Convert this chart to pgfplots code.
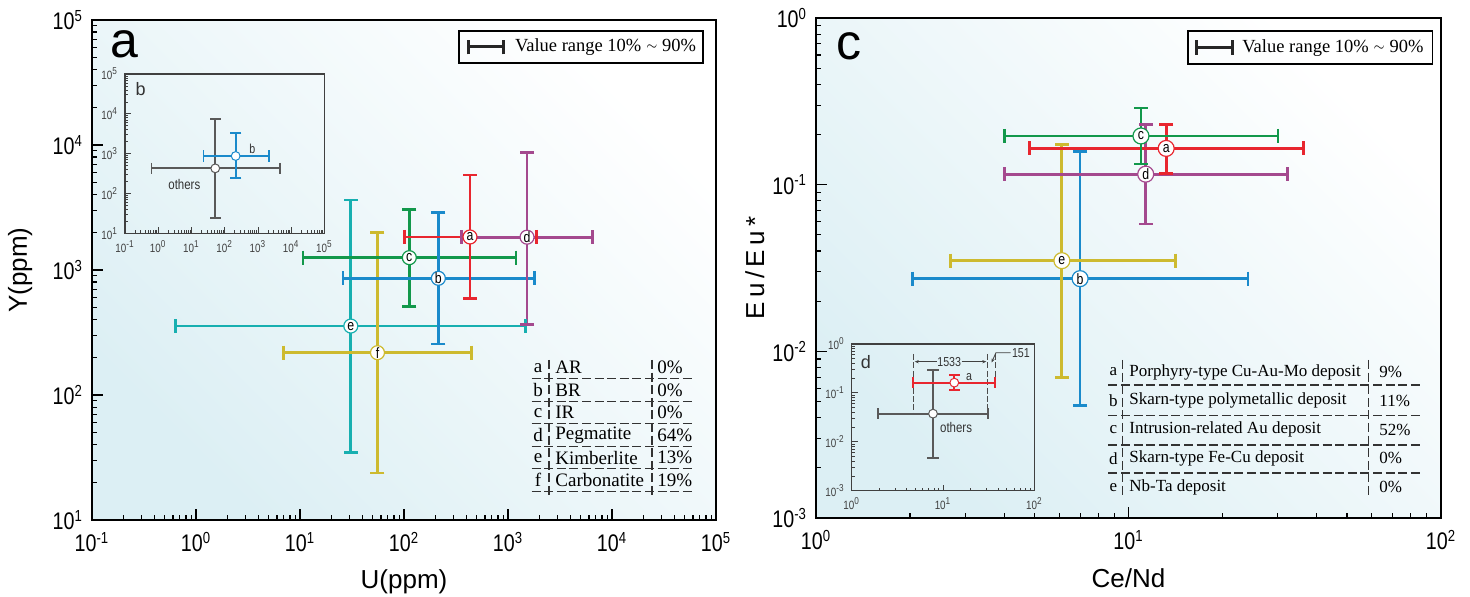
\documentclass[border=0pt]{standalone}
\usepackage{pgfplots}
\pgfplotsset{compat=1.18}
\usepackage{fontspec}
\setmainfont{Liberation Sans}
\newfontfamily\serif{Liberation Serif}
\newfontfamily\narrow{Liberation Sans}[FakeStretch=0.82]
\usetikzlibrary{arrows.meta}

\definecolor{bgc}{RGB}{220,239,244}
\definecolor{cA}{RGB}{232,38,47}
\definecolor{cB}{RGB}{26,138,203}
\definecolor{cC}{RGB}{18,152,75}
\definecolor{cD}{RGB}{164,73,142}
\definecolor{cE}{RGB}{23,175,176}
\definecolor{cF}{RGB}{205,186,47}
\definecolor{cG}{RGB}{89,89,89}
\definecolor{tbl}{RGB}{51,51,51}

\tikzset{
  hr/.style={draw=#1, line width=1.4pt, mark=|, mark size=3.5pt},
  vr/.style={draw=#1, line width=1.4pt, mark=-, mark size=3.5pt},
  ihr/.style={draw=#1, line width=0.9pt, mark=|, mark size=2.8pt},
  ivr/.style={draw=#1, line width=0.9pt, mark=-, mark size=2.8pt},
  dot/.style={mark=*, mark size=2.2pt, mark options={fill=white, draw=#1, line width=0.5pt}},
  ltr/.style={font=\narrow\fontsize{7.5}{8}\selectfont, inner sep=0pt, text=black, anchor=center},
}

\begin{document}
\begin{tikzpicture}
\useasboundingbox (0,0) rectangle (735pt,298.5pt);

% ================= Panel a =================
\begin{axis}[at={(46pt,38.5pt)}, anchor=south west,
  xmode=log, ymode=log, scale only axis,
  width=312pt, height=250pt,
  axis line style={line width=0.8pt},
  tick align=inside, xtick pos=bottom, ytick pos=left,
  major tick length=5.5pt, minor tick length=2.5pt,
  every tick/.style={black, line width=0.6pt},
  tick label style={font=\narrow\fontsize{12}{14}\selectfont},
  xticklabel style={yshift=-2.5pt},
  yticklabel style={xshift=-1pt},
  every axis label/.append style={font=\fontsize{13}{15}\selectfont},
  axis background/.style={top color=white, bottom color=bgc, shading angle=-45},
  clip=false,
  xmin=0.1, xmax=1e5, ymin=10, ymax=1e5,
  xtick={0.1,1,10,100,1000,10000,100000},
  xticklabels={10\textsuperscript{-1},10\textsuperscript{0},10\textsuperscript{1},10\textsuperscript{2},10\textsuperscript{3},10\textsuperscript{4},10\textsuperscript{5}},
  ytick={10,100,1000,10000,100000},
  yticklabels={10\textsuperscript{1},10\textsuperscript{2},10\textsuperscript{3},10\textsuperscript{4},10\textsuperscript{5}},
  xlabel={U(ppm)}, ylabel={Y(ppm)},
  x label style={at={(axis description cs:0.5,-0.124)}, anchor=center},
  y label style={at={(axis description cs:-0.115,0.5)}, anchor=center},
]
% e
\addplot[hr=cE] coordinates {(0.64,356) (1462,356)};
\addplot[vr=cE] coordinates {(30.8,34.8) (30.8,3631)};
% f
\addplot[hr=cF] coordinates {(7.0,218) (448,218)};
\addplot[vr=cF] coordinates {(55.6,23.8) (55.6,2002)};
% c
\addplot[hr=cC] coordinates {(10.7,1255) (1194,1255)};
\addplot[vr=cC] coordinates {(112.5,509) (112.5,3058)};
% b
\addplot[hr=cB] coordinates {(25.9,858) (1795,858)};
\addplot[vr=cB] coordinates {(214,256) (214,2895)};
% a
\addplot[hr=cA] coordinates {(100.7,1837) (1871,1837)};
\addplot[vr=cA] coordinates {(431,594) (431,5754)};
% d
\addplot[hr=cD] coordinates {(357,1830) (6500,1830)};
\addplot[vr=cD] coordinates {(1524,368) (1524,8735)};
% markers
\addplot[only marks, mark=*, mark size=3.5pt, mark options={fill=white, draw=cE, line width=0.6pt}, nodes near coords={e}, every node near coord/.style={ltr}] coordinates {(30.8,356)};
\addplot[only marks, mark=*, mark size=3.5pt, mark options={fill=white, draw=cF, line width=0.6pt}, nodes near coords={f}, every node near coord/.style={ltr}] coordinates {(55.6,218)};
\addplot[only marks, mark=*, mark size=3.5pt, mark options={fill=white, draw=cC, line width=0.6pt}, nodes near coords={c}, every node near coord/.style={ltr}] coordinates {(112.5,1255)};
\addplot[only marks, mark=*, mark size=3.5pt, mark options={fill=white, draw=cB, line width=0.6pt}, nodes near coords={b}, every node near coord/.style={ltr}] coordinates {(214,858)};
\addplot[only marks, mark=*, mark size=3.5pt, mark options={fill=white, draw=cA, line width=0.6pt}, nodes near coords={a}, every node near coord/.style={ltr}] coordinates {(431,1837)};
\addplot[only marks, mark=*, mark size=3.5pt, mark options={fill=white, draw=cD, line width=0.6pt}, nodes near coords={d}, every node near coord/.style={ltr}] coordinates {(1524,1830)};
\node[font=\fontsize{25}{25}\selectfont] at (axis description cs:0.052,0.951) {a};
\end{axis}

% legend box a
\draw[line width=0.8pt] (229.5pt,283pt) rectangle (351.5pt,267pt);
\draw[line width=1.5pt, black!85] (234pt,275pt) -- (251.5pt,275pt);
\draw[line width=1.5pt, black!85] (234pt,271.3pt) -- (234pt,278.7pt);
\draw[line width=1.5pt, black!85] (251.5pt,271.3pt) -- (251.5pt,278.7pt);
\node[anchor=west, inner sep=0pt, font=\serif\fontsize{9.25}{10}\selectfont] at (257.3pt,275pt) {Value range 10\% {\fontsize{6}{6}\selectfont\raisebox{0.3ex}{$\sim$}} 90\%};

% table a
\begin{scope}[tbl, line width=0.55pt, dash pattern=on 4.5pt off 1.8pt]
\foreach \yy in {378.7,401.2,423.7,446.2,468.7,491.2} {
  \draw (265.8pt,{(597-\yy)/2*1pt}) -- (347.3pt,{(597-\yy)/2*1pt});
}
\draw (274.5pt,{(597-360)/2*1pt}) -- (274.5pt,{(597-498)/2*1pt});
\draw (326pt,{(597-360)/2*1pt}) -- (326pt,{(597-498)/2*1pt});
\end{scope}
\begin{scope}[font=\serif\fontsize{9.5}{10}\selectfont, inner sep=0pt]
\foreach \l/\n/\p [count=\i from 0] in {a/AR/0\%,b/BR/0\%,c/IR/0\%,d/Pegmatite/64\%,e/Kimberlite/13\%,f/Carbonatite/19\%} {
  \pgfmathsetmacro{\yc}{(597-(367.7+22.5*\i))/2}
  \node[anchor=center] at (269pt,\yc pt) {\l};
  \node[anchor=west] at (277.5pt,\yc pt) {\n};
  \node[anchor=west] at (328.5pt,\yc pt) {\p};
}
\end{scope}

% ================= Inset b =================
\begin{axis}[at={(62.5pt,181.85pt)}, anchor=south west,
  xmode=log, ymode=log, scale only axis,
  width=99.7pt, height=79.6pt,
  axis line style={line width=0.6pt, draw=black!75},
  tick align=inside, xtick pos=bottom, ytick pos=left,
  major tick length=3pt, minor tick length=1.5pt,
  every tick/.style={black!75, line width=0.4pt},
  tick label style={font=\narrow\fontsize{6}{7}\selectfont, text=black!75},
  clip=false,
  xmin=0.1, xmax=1e5, ymin=10, ymax=1e5,
  xtick={0.1,1,10,100,1000,10000,100000},
  xticklabels={10\textsuperscript{-1},10\textsuperscript{0},10\textsuperscript{1},10\textsuperscript{2},10\textsuperscript{3},10\textsuperscript{4},10\textsuperscript{5}},
  ytick={10,100,1000,10000,100000},
  yticklabels={10\textsuperscript{1},10\textsuperscript{2},10\textsuperscript{3},10\textsuperscript{4},10\textsuperscript{5}},
]
\addplot[ihr=cG] coordinates {(0.63,428) (4510,428)};
\addplot[ivr=cG] coordinates {(52,23.8) (52,7280)};
\addplot[ihr=cB] coordinates {(23,874) (2100,874)};
\addplot[ivr=cB] coordinates {(214,250) (214,3240)};
\addplot[only marks, dot=cG] coordinates {(52,428)};
\addplot[only marks, dot=cB] coordinates {(214,874)};
\node[font=\fontsize{9}{9}\selectfont, text=black!80] at (axis description cs:0.079,0.904) {b};
\node[font=\narrow\fontsize{6.5}{7}\selectfont, text=black!80] at (axis cs:676,1285) {b};
\node[font=\narrow\fontsize{7}{7}\selectfont, text=black!80] at (axis cs:6.1,170) {others};
\end{axis}

% ================= Panel c =================
\begin{axis}[at={(408pt,39.5pt)}, anchor=south west,
  xmode=log, ymode=log, scale only axis,
  width=312.5pt, height=250pt,
  axis line style={line width=0.8pt},
  tick align=inside, xtick pos=bottom, ytick pos=left,
  major tick length=5.5pt, minor tick length=2.5pt,
  every tick/.style={black, line width=0.6pt},
  tick label style={font=\narrow\fontsize{12}{14}\selectfont},
  xticklabel style={yshift=-2.5pt},
  yticklabel style={xshift=-1pt},
  every axis label/.append style={font=\fontsize{13}{15}\selectfont},
  axis background/.style={top color=white, bottom color=bgc, shading angle=-45},
  clip=false,
  xmin=1, xmax=100, ymin=0.001, ymax=1,
  xtick={1,10,100},
  xticklabels={10\textsuperscript{0},10\textsuperscript{1},10\textsuperscript{2}},
  ytick={0.001,0.01,0.1,1},
  yticklabels={10\textsuperscript{-3},10\textsuperscript{-2},10\textsuperscript{-1},10\textsuperscript{0}},
  xlabel={Ce/Nd}, ylabel={E\,u\,/\,E\,u\,*},
  x label style={at={(axis description cs:0.5,-0.12)}, anchor=center},
  y label style={at={(axis description cs:-0.098,0.5)}, anchor=center},
]
% b
\addplot[hr=cB] coordinates {(2.04,0.0273) (24.1,0.0273)};
\addplot[vr=cB] coordinates {(7.0,0.00474) (7.0,0.158)};
% e
\addplot[hr=cF] coordinates {(2.70,0.035) (14.1,0.035)};
\addplot[vr=cF] coordinates {(6.12,0.00694) (6.12,0.175)};
% d
\addplot[hr=cD] coordinates {(4.01,0.1156) (32.3,0.1156)};
\addplot[vr=cD] coordinates {(11.35,0.0581) (11.35,0.2286)};
% a
\addplot[hr=cA] coordinates {(4.81,0.165) (36.3,0.165)};
\addplot[vr=cA] coordinates {(13.2,0.117) (13.2,0.2297)};
% c
\addplot[hr=cC] coordinates {(4.02,0.196) (30.1,0.196)};
\addplot[vr=cC] coordinates {(10.96,0.133) (10.96,0.288)};
% markers
\addplot[only marks, mark=*, mark size=4pt, mark options={fill=white, draw=cF, line width=0.6pt}, nodes near coords={e}, every node near coord/.style={ltr}] coordinates {(6.12,0.035)};
\addplot[only marks, mark=*, mark size=4pt, mark options={fill=white, draw=cB, line width=0.6pt}, nodes near coords={b}, every node near coord/.style={ltr}] coordinates {(7.0,0.0273)};
\addplot[only marks, mark=*, mark size=4pt, mark options={fill=white, draw=cD, line width=0.6pt}, nodes near coords={d}, every node near coord/.style={ltr}] coordinates {(11.35,0.1156)};
\addplot[only marks, mark=*, mark size=4pt, mark options={fill=white, draw=cA, line width=0.6pt}, nodes near coords={a}, every node near coord/.style={ltr}] coordinates {(13.2,0.165)};
\addplot[only marks, mark=*, mark size=4pt, mark options={fill=white, draw=cC, line width=0.6pt}, nodes near coords={c}, every node near coord/.style={ltr}] coordinates {(10.96,0.196)};
\node[font=\fontsize{25}{25}\selectfont] at (axis description cs:0.052,0.944) {c};
\end{axis}

% legend box c
\draw[line width=0.8pt] (593.9pt,283pt) rectangle (716.3pt,266.5pt);
\draw[line width=1.5pt, black!85] (598pt,274.7pt) -- (616pt,274.7pt);
\draw[line width=1.5pt, black!85] (598pt,271pt) -- (598pt,278.4pt);
\draw[line width=1.5pt, black!85] (616pt,271pt) -- (616pt,278.4pt);
\node[anchor=west, inner sep=0pt, font=\serif\fontsize{9.25}{10}\selectfont] at (621pt,274.7pt) {Value range 10\% {\fontsize{6}{6}\selectfont\raisebox{0.3ex}{$\sim$}} 90\%};

% table c
\begin{scope}[tbl, line width=0.55pt, dash pattern=on 4.5pt off 1.8pt]
\foreach \yy in {385,415.5,445,473} {
  \draw (554.2pt,{(597-\yy)/2*1pt}) -- (709.8pt,{(597-\yy)/2*1pt});
}
\draw (561.4pt,{(597-360)/2*1pt}) -- (561.4pt,{(597-495)/2*1pt});
\draw (684.3pt,{(597-360)/2*1pt}) -- (684.3pt,{(597-495)/2*1pt});
\end{scope}
\begin{scope}[font=\serif\fontsize{8.5}{9}\selectfont, inner sep=0pt]
\foreach \l/\n/\p [count=\i from 0] in {a/Porphyry-type Cu-Au-Mo deposit/9\%,b/Skarn-type polymetallic deposit/11\%,c/Intrusion-related Au deposit/52\%,d/Skarn-type Fe-Cu deposit/0\%,e/Nb-Ta deposit/0\%} {
  \pgfmathsetmacro{\yc}{(597-(372+28.8*\i))/2}
  \node[anchor=center] at (556.7pt,\yc pt) {\l};
  \node[anchor=west] at (564.5pt,\yc pt) {\n};
  \node[anchor=west] at (689.5pt,\yc pt) {\p};
}
\end{scope}

% ================= Inset d =================
\begin{axis}[at={(425.85pt,53.15pt)}, anchor=south west,
  xmode=log, ymode=log, scale only axis,
  width=91.3pt, height=73.35pt,
  axis line style={line width=0.6pt, draw=black!75},
  tick align=inside, xtick pos=bottom, ytick pos=left,
  major tick length=3pt, minor tick length=1.5pt,
  every tick/.style={black!75, line width=0.4pt},
  tick label style={font=\narrow\fontsize{6}{7}\selectfont, text=black!75},
  clip=false,
  xmin=1, xmax=100, ymin=0.001, ymax=1,
  xtick={1,10,100},
  xticklabels={10\textsuperscript{0},10\textsuperscript{1},10\textsuperscript{2}},
  ytick={0.001,0.01,0.1,1},
  yticklabels={10\textsuperscript{-3},10\textsuperscript{-2},10\textsuperscript{-1},10\textsuperscript{0}},
]
\draw[black!70, line width=0.5pt, dash pattern=on 3pt off 1.2pt] (axis cs:4.73,0.625) -- (axis cs:4.73,0.0376);
\draw[black!70, line width=0.5pt, dash pattern=on 3pt off 1.2pt] (axis cs:30.8,0.625) -- (axis cs:30.8,0.0376);
\draw[black!70, line width=0.5pt, dash pattern=on 3pt off 1.2pt] (axis cs:37.4,0.625) -- (axis cs:37.4,0.162);
\addplot[ihr=cG] coordinates {(1.93,0.0376) (30.8,0.0376)};
\addplot[ivr=cG] coordinates {(7.77,0.00474) (7.77,0.294)};
\addplot[ihr=cA] coordinates {(4.73,0.162) (37.4,0.162)};
\addplot[ivr=cA] coordinates {(13.3,0.1146) (13.3,0.232)};
\addplot[only marks, dot=cG] coordinates {(7.77,0.0376)};
\addplot[only marks, dot=cA] coordinates {(13.3,0.162)};
\draw[black!75, line width=0.4pt, -{Stealth[length=2pt,width=1.6pt]}] (axis cs:8.6,0.435) -- (axis cs:4.9,0.435);
\draw[black!75, line width=0.4pt, -{Stealth[length=2pt,width=1.6pt]}] (axis cs:16,0.435) -- (axis cs:29.8,0.435);
\node[font=\narrow\fontsize{6.5}{7}\selectfont, text=black!80] at (axis cs:11.7,0.435) {1533};
\draw[black!75, line width=0.4pt, -{Stealth[length=2pt,width=1.6pt]}] (axis cs:55,0.664) -- (axis cs:38,0.664) -- (axis cs:34.1,0.42);
\node[font=\narrow\fontsize{6.5}{7}\selectfont, text=black!80, anchor=west, inner sep=0.5pt] at (axis cs:55,0.664) {151};
\node[font=\fontsize{9}{9}\selectfont, text=black!80] at (axis description cs:0.078,0.88) {d};
\node[font=\narrow\fontsize{6.5}{7}\selectfont, text=black!80] at (axis cs:19.3,0.215) {a};
\node[font=\narrow\fontsize{7}{7}\selectfont, text=black!80] at (axis cs:13.9,0.0196) {others};
\end{axis}
\end{tikzpicture}
\end{document}
